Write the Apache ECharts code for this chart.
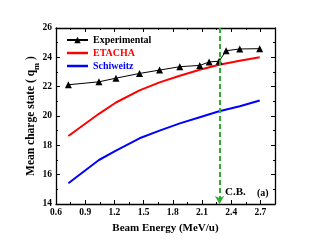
<!DOCTYPE html>
<html><head><meta charset="utf-8">
<script src="https://cdn.jsdelivr.net/npm/echarts@6/dist/echarts.min.js"></script>
<style>html,body{margin:0;padding:0;background:#fff}#c{width:320px;height:245px}</style>
</head><body><div id="c"></div>
<script>
var expX = [0.727, 1.041, 1.216, 1.458, 1.664, 1.872, 2.077, 2.173, 2.276, 2.348, 2.488, 2.693];
var expY = [22.13, 22.33, 22.58, 22.90, 23.13, 23.36, 23.45, 23.68, 23.74, 24.45, 24.57, 24.59];
var thX = [0.727, 1.041, 1.216, 1.458, 1.664, 1.872, 2.077, 2.276, 2.488, 2.693];
var etachaY = [18.64, 20.15, 20.92, 21.75, 22.29, 22.74, 23.15, 23.50, 23.77, 24.00];
var schY = [15.41, 17.00, 17.64, 18.48, 19.00, 19.50, 19.92, 20.32, 20.67, 21.06];
var cbX = 2.28;
var font = 'Liberation Serif';
function pairs(xs, ys){ return xs.map(function(x,i){return [x, ys[i]];}); }
var chart = echarts.init(document.getElementById('c'));
var axisCommon = {
  axisLine:{show:true,onZero:false,lineStyle:{color:'#000',width:1.3}},
  axisTick:{show:true,inside:true,length:4,lineStyle:{color:'#000',width:1}},
  minorTick:{show:true,splitNumber:2,length:2,lineStyle:{color:'#000'}},
  splitLine:{show:false}
};
var lineIcon = 'path://M0,0h22v2.6h-22z';
chart.setOption({
  animation:false,
  grid:{left:56,right:45,top:28,bottom:41},
  legend:{
    orient:'vertical',left:61,top:30,itemWidth:21,itemHeight:8,itemGap:3,
    textStyle:{fontFamily:font,fontWeight:'bold',fontSize:10},
    data:[
      {name:'Experimental',textStyle:{color:'#000'}},
      {name:'ETACHA',icon:lineIcon,textStyle:{color:'#f00'}},
      {name:'Schiweitz',icon:lineIcon,textStyle:{color:'#00f'}}
    ]
  },
  xAxis:[
    Object.assign({type:'value',min:0.6,max:2.85,interval:0.3,
      name:'Beam Energy (MeV/u)',nameLocation:'middle',nameGap:17,
      nameTextStyle:{fontFamily:font,fontWeight:'bold',fontSize:11,color:'#000'},
      axisLabel:{fontFamily:font,fontWeight:'bold',fontSize:9.5,color:'#000',margin:4,showMaxLabel:false,
        formatter:function(v){return (Math.round(v*10)/10).toFixed(1);}}},axisCommon),
    Object.assign({type:'value',position:'top',min:0.6,max:2.85,interval:0.3,axisLabel:{show:false}},axisCommon)
  ],
  yAxis:[
    Object.assign({type:'value',min:14,max:26,interval:2,
      name:'{a|Mean charge state ( q}{s|m}{a| )}',nameLocation:'middle',nameGap:19,nameMoveOverlap:false,
      nameTextStyle:{rich:{a:{fontFamily:font,fontWeight:'bold',fontSize:11.5,color:'#000'},
        s:{fontFamily:font,fontWeight:'bold',fontSize:8.5,color:'#000',verticalAlign:'bottom',padding:[0,0,-4,0]}}},
      axisLabel:{fontFamily:font,fontWeight:'bold',fontSize:9.5,color:'#000',margin:4}},axisCommon),
    Object.assign({type:'value',position:'right',min:14,max:26,interval:2,axisLabel:{show:false}},axisCommon)
  ],
  series:[
    {name:'ETACHA',type:'line',data:pairs(thX,etachaY),symbol:'none',symbolKeepAspect:true,
      lineStyle:{color:'#f00',width:2},itemStyle:{color:'#f00'}},
    {name:'Schiweitz',type:'line',data:pairs(thX,schY),symbol:'none',symbolKeepAspect:true,
      lineStyle:{color:'#00f',width:2},itemStyle:{color:'#00f'}},
    {name:'Experimental',type:'line',data:pairs(expX,expY),symbol:'triangle',symbolSize:7,
      lineStyle:{color:'#000',width:1},itemStyle:{color:'#000'},
      markLine:{silent:true,symbol:['none','arrow'],symbolSize:[7,8],label:{show:false},
        lineStyle:{color:'#3a3',type:[5,3],width:2},
        data:[[{coord:[cbX,26]},{coord:[cbX,14]}]]}}
  ],
  graphic:[
    {type:'text',left:225,top:187,style:{text:'C.B.',font:'bold 11px "Liberation Serif"',fill:'#000'}},
    {type:'text',left:257,top:188,style:{text:'(a)',font:'bold 10px "Liberation Serif"',fill:'#000'}}
  ]
});
</script></body></html>
